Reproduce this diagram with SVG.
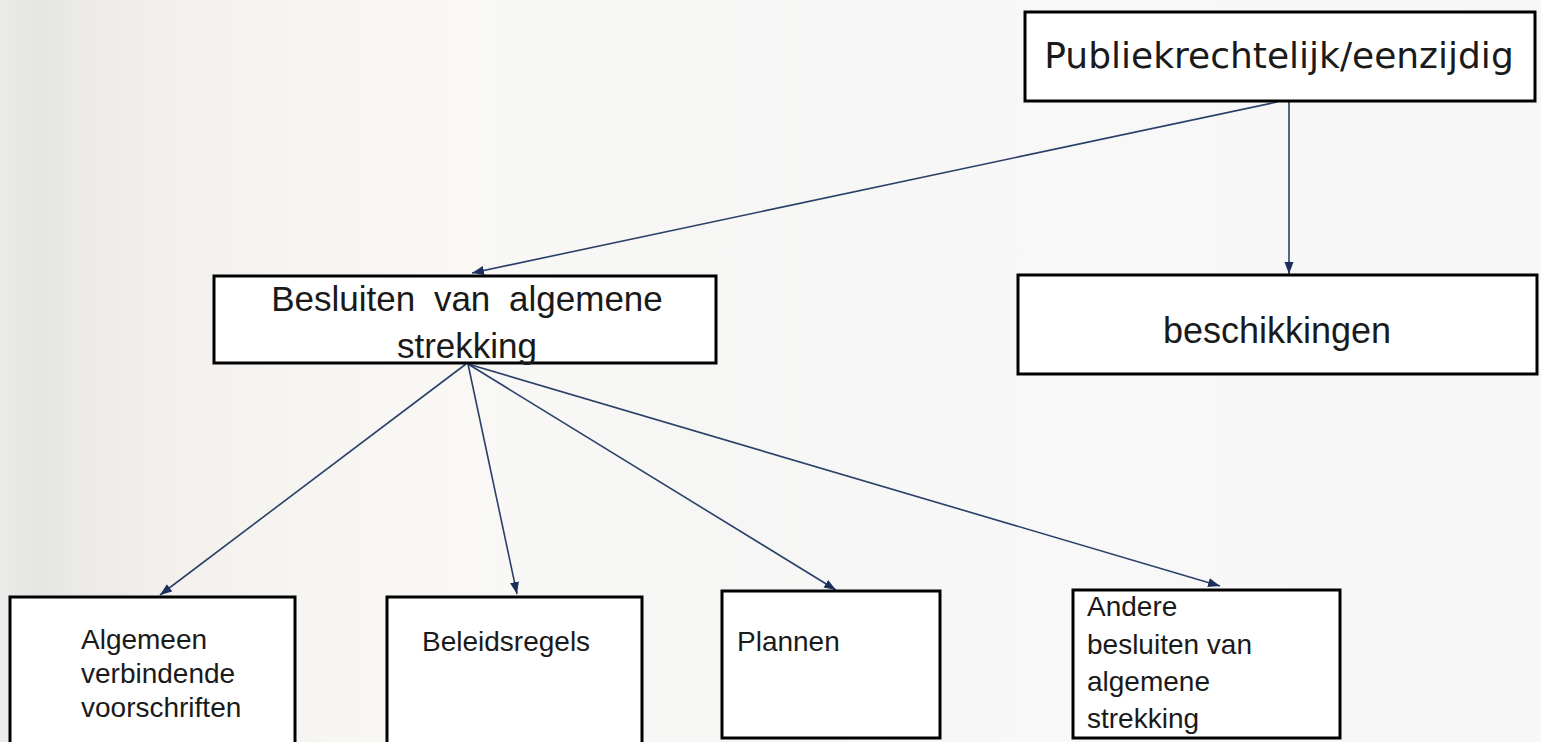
<svg xmlns="http://www.w3.org/2000/svg" width="1541" height="742" viewBox="0 0 1541 742">
  <defs>
    <linearGradient id="bg" x1="0" y1="0" x2="1" y2="0">
      <stop offset="0" stop-color="#ebebea"/>
      <stop offset="0.025" stop-color="#e5e5e3"/>
      <stop offset="0.05" stop-color="#ebeae8"/>
      <stop offset="0.1" stop-color="#f2efec"/>
      <stop offset="0.2" stop-color="#f7f5f2"/>
      <stop offset="0.3" stop-color="#f9f8f5"/>
      <stop offset="0.45" stop-color="#f6f6f5"/>
      <stop offset="0.7" stop-color="#f8f8f8"/>
      <stop offset="1" stop-color="#f7f7f7"/>
    </linearGradient>
    <marker id="arr" markerUnits="userSpaceOnUse" markerWidth="13" markerHeight="11" refX="12" refY="5.5" orient="auto">
      <path d="M0,1 L12,5.5 L0,10 z" fill="#1b2f5a"/>
    </marker>
    <style>
      .box { fill: #ffffff; stroke: #000000; stroke-width: 3; }
      .conn { stroke: #2a4068; stroke-width: 1.6; fill: none; marker-end: url(#arr); }
      .verd { font-family: "DejaVu Sans", Verdana, sans-serif; fill: #1a1a1a; }
      .ar { font-family: "Liberation Sans", Arial, sans-serif; fill: #1a1a1a; }
    </style>
  </defs>
  <rect x="0" y="0" width="1541" height="742" fill="url(#bg)"/>

  <g id="connectors">
    <line class="conn" x1="1277" y1="102" x2="472" y2="273"/>
    <line class="conn" x1="1289" y1="102" x2="1289" y2="274"/>
    <line class="conn" x1="466" y1="364" x2="160" y2="595"/>
    <line class="conn" x1="468" y1="364" x2="517" y2="594"/>
    <line class="conn" x1="468" y1="364" x2="836" y2="590"/>
    <line class="conn" x1="468" y1="364" x2="1220" y2="586"/>
  </g>

  <g id="node-publiek">
    <rect class="box" x="1025" y="12" width="510" height="89"/>
    <text class="verd" x="1279" y="68" font-size="36" text-anchor="middle">Publiekrechtelijk/eenzijdig</text>
  </g>

  <g id="node-besluiten">
    <rect class="box" x="214" y="276" width="502" height="87"/>
    <text class="ar" x="467" y="311" font-size="35" text-anchor="middle" word-spacing="9">Besluiten van algemene</text>
    <text class="ar" x="467" y="358" font-size="35" text-anchor="middle">strekking</text>
  </g>

  <g id="node-beschikkingen">
    <rect class="box" x="1018" y="275" width="519" height="99"/>
    <text class="ar" x="1277" y="343" font-size="36" text-anchor="middle">beschikkingen</text>
  </g>

  <g id="node-avv">
    <rect class="box" x="10" y="597" width="285" height="160"/>
    <text class="ar" font-size="28">
      <tspan x="81" y="649">Algemeen</tspan>
      <tspan x="81" y="683">verbindende</tspan>
      <tspan x="81" y="717">voorschriften</tspan>
    </text>
  </g>

  <g id="node-beleidsregels">
    <rect class="box" x="387" y="597" width="255" height="160"/>
    <text class="ar" x="422" y="651" font-size="28">Beleidsregels</text>
  </g>

  <g id="node-plannen">
    <rect class="box" x="722" y="591" width="218" height="147"/>
    <text class="ar" x="737" y="651" font-size="28">Plannen</text>
  </g>

  <g id="node-andere">
    <rect class="box" x="1073" y="590" width="267" height="148"/>
    <text class="ar" font-size="28">
      <tspan x="1087" y="616">Andere</tspan>
      <tspan x="1087" y="654">besluiten van</tspan>
      <tspan x="1087" y="691">algemene</tspan>
      <tspan x="1087" y="728">strekking</tspan>
    </text>
  </g>
</svg>
